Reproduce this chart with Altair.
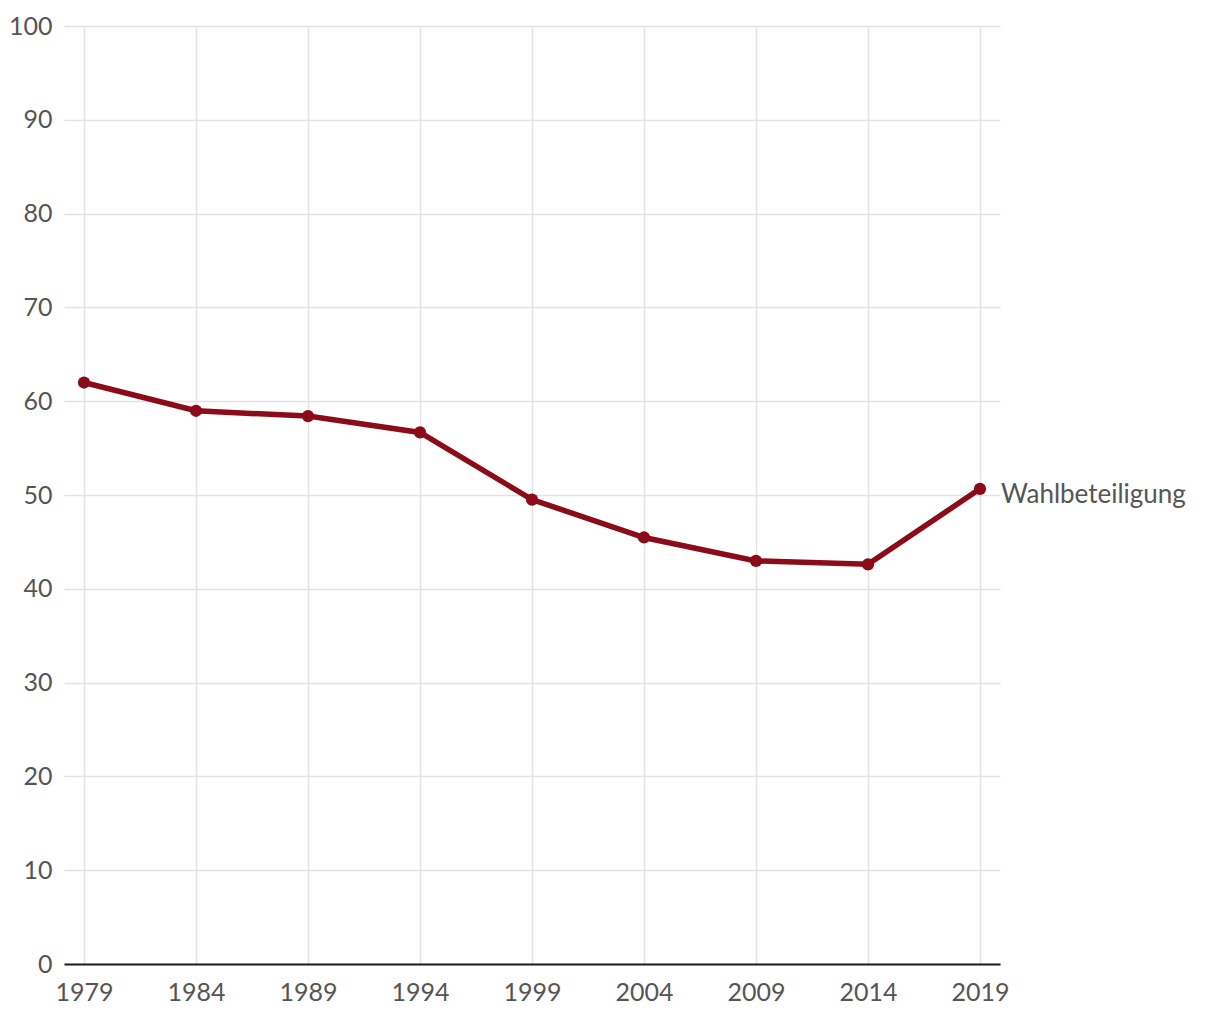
import altair as alt
import pandas as pd

years = [1979, 1984, 1989, 1994, 1999, 2004, 2009, 2014, 2019]
turnout = [61.99, 58.98, 58.41, 56.67, 49.51, 45.47, 42.97, 42.61, 50.66]
series_label = "Wahlbeteiligung"

df = pd.DataFrame({"Jahr": years, "Wert": turnout})
df_last = df.tail(1).assign(label=series_label)

FONT = "Lato"
RED = "#8c0b18"
GRAY = "#555555"

pad_years = 20 / 22.4
x = alt.X("Jahr:Q", scale=alt.Scale(domain=[years[0] - pad_years, years[-1] + pad_years], nice=False, zero=False),
          axis=alt.Axis(title=None, values=years, format="d", grid=True, ticks=False,
                        domainColor="#1a1a1a", domainWidth=2, labelPadding=16,
                        labelFontSize=25, labelColor=GRAY, labelFont=FONT,
                        gridColor="#e3e3e3", gridWidth=1.5))
y = alt.Y("Wert:Q", scale=alt.Scale(domain=[0, 100]),
          axis=alt.Axis(title=None, values=list(range(0, 101, 10)), ticks=False, domain=False,
                        labelPadding=12, labelFontSize=25, labelColor=GRAY, labelFont=FONT,
                        gridColor="#e3e3e3", gridWidth=1.5))

line = alt.Chart(df).mark_line(color=RED, strokeWidth=5.5).encode(x=x, y=y)
pts = alt.Chart(df).mark_point(color=RED, filled=True, size=150, opacity=1).encode(x=x, y=y)
lab = alt.Chart(df_last).mark_text(align="left", baseline="middle", dx=21, dy=6, fontSize=26,
                                   font=FONT, color=GRAY).encode(x=x, y=y, text="label:N")

chart = (line + pts + lab).properties(
    width=936, height=938,
    background="white",
    autosize=alt.AutoSizeParams(type="none"),
    padding={"left": 64, "top": 26, "right": 220, "bottom": 56},
).configure_view(strokeWidth=0, stroke="transparent")

chart.save("out.html", embed_options={"renderer": "svg", "actions": False})
